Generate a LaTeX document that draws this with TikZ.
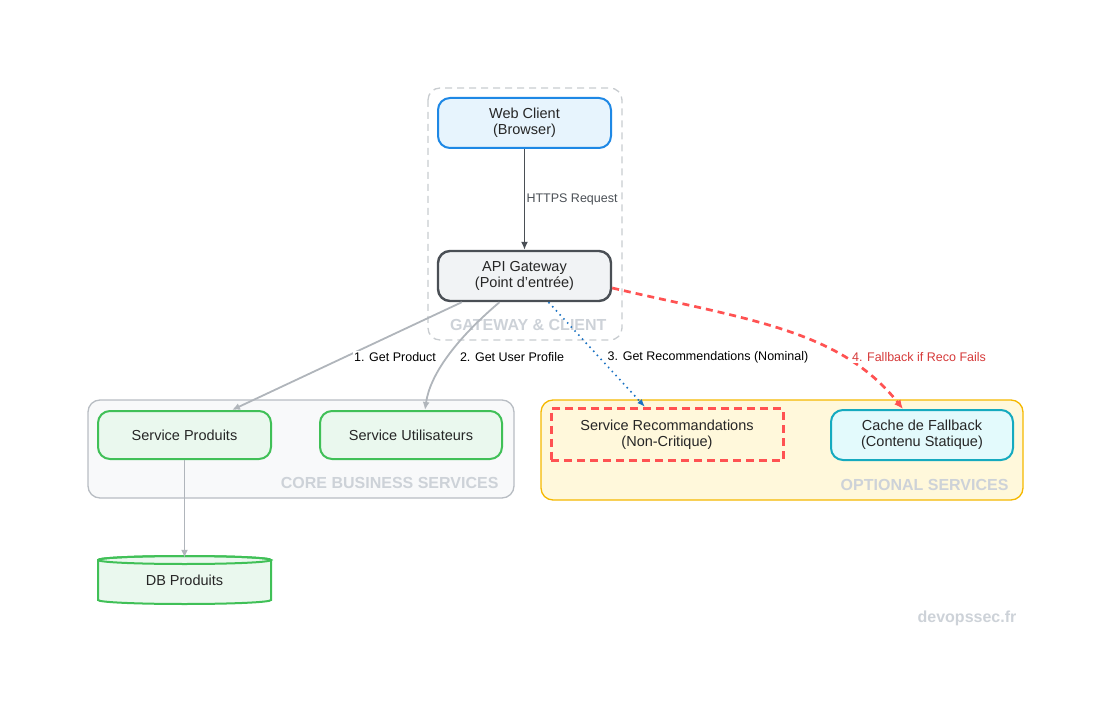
\documentclass[tikz,border=0pt]{standalone}
\usepackage{fontspec}
\setmainfont{Liberation Sans}
\usetikzlibrary{arrows.meta}
\definecolor{grpgray}{HTML}{C8CCD0}
\definecolor{lbl}{HTML}{CDD2D8}
\definecolor{webf}{HTML}{E7F4FD}\definecolor{webd}{HTML}{1E88E5}
\definecolor{apif}{HTML}{F1F3F5}\definecolor{apid}{HTML}{4A4F55}
\definecolor{grf}{HTML}{EAF8EE}\definecolor{grd}{HTML}{40C057}
\definecolor{coref}{HTML}{F8F9FA}\definecolor{cored}{HTML}{B8BDC3}
\definecolor{optf}{HTML}{FFF8DB}\definecolor{optd}{HTML}{F5B800}
\definecolor{cyf}{HTML}{E3FAFC}\definecolor{cyd}{HTML}{15AABF}
\definecolor{redd}{HTML}{FF5252}\definecolor{redt}{HTML}{D63A3A}
\definecolor{bluet}{HTML}{1971C2}\definecolor{arr}{HTML}{B0B5BB}
\tikzset{
 box/.style={rounded corners=12pt,line width=2pt,align=center,font=\fontsize{14.5}{16}\selectfont,text=black!85},
 grp/.style={rounded corners=12pt,line width=1.3pt},
 glabel/.style={font=\bfseries\fontsize{16}{18}\selectfont,text=lbl,anchor=east},
 elab/.style={font=\fontsize{12.5}{14}\selectfont,fill=white,inner sep=1pt},
 gar/.style={draw=arr,line width=1.8pt,-{Latex[length=8pt,width=7pt]}}
}
\begin{document}
\begin{tikzpicture}[x=1pt,y=-1pt]
\useasboundingbox (0,0) rectangle (1111,711);
% groups
\draw[grp,draw=grpgray,dash pattern=on 7pt off 5pt] (428,88) rectangle (622,340);
\node[glabel] (gl) at (610,325) {GATEWAY \& CLIENT};
\draw[grp,fill=coref,draw=cored] (88,400) rectangle (514,498);
\node[glabel] (cl) at (502,483) {CORE BUSINESS SERVICES};
\draw[grp,fill=optf,draw=optd] (541,400) rectangle (1023,500);
\node[glabel] (ol) at (1012,485) {OPTIONAL SERVICES};
% nodes
\node[box,fill=webf,draw=webd,minimum width=173pt,minimum height=50pt] (web) at (524.5,123) {Web Client\\(Browser)};
\node[box,fill=apif,draw=apid,line width=2.4pt,minimum width=173pt,minimum height=50pt] (api) at (524.5,276) {API Gateway\\(Point d'entrée)};
\node[box,fill=grf,draw=grd,minimum width=173pt,minimum height=48pt] (sp) at (184.5,435) {Service Produits};
\node[box,fill=grf,draw=grd,minimum width=182pt,minimum height=48pt] (su) at (411,435) {Service Utilisateurs};
\node[box,rounded corners=0pt,draw=redd,line width=3pt,dash pattern=on 8pt off 5pt,minimum width=232pt,minimum height=52pt] (reco) at (667,434.5) {Service Recommandations\\(Non-Critique)};
\node[box,fill=cyf,draw=cyd,minimum width=182pt,minimum height=50pt] (cache) at (922,435) {Cache de Fallback\\(Contenu Statique)};
% cylinder
\path[fill=grf,draw=grd,line width=2pt] (98,560) -- (98,600) arc[start angle=180,end angle=360,x radius=86.5pt,y radius=4pt] -- (271,560) arc[start angle=0,end angle=180,x radius=86.5pt,y radius=4pt] -- cycle;
\draw[grd,line width=2pt] (98,560) arc[start angle=180,end angle=-180,x radius=86.5pt,y radius=4pt];
\node[font=\fontsize{14.5}{16}\selectfont,text=black!85,minimum width=173pt,minimum height=44pt] (db) at (184.5,580) {DB Produits};
% coordinates
\coordinate (a1) at ([xshift=25pt]api.south west);
\coordinate (t1) at ([xshift=-40pt]sp.north east);
\coordinate (a2) at ([xshift=-25pt]api.south);
\coordinate (t2) at ([xshift=14pt]su.north);
\coordinate (a3) at ([xshift=24pt]api.south);
\coordinate (t3) at ([xshift=-22pt]reco.north);
\coordinate (a4) at ([yshift=-12pt]api.east);
\coordinate (t4) at ([xshift=-19pt]cache.north);
% edges
\draw[draw=apid,line width=1.6pt,-{Latex[length=8pt,width=7pt]}] (web) -- (api);
\node[font=\fontsize{12.5}{14}\selectfont,text=apid,anchor=west] (l0) at (523,199) {HTTPS Request};
\draw[gar] (a1) -- (t1);
\draw[gar] (a2) .. controls (455,340) and (430,375) .. (t2);
\draw[bluet,line width=1.6pt,dash pattern=on 1.5pt off 4pt,-{Latex[length=8pt,width=6pt]}] (a3) -- (t3);
\draw[redd,line width=2.7pt,dash pattern=on 7pt off 5pt,-{Latex[length=9pt,width=8pt]}] (a4) .. controls (750,320) and (840,330) .. (t4);
\draw[gar] (sp) -- (db.north);
\node[elab] (e1) at (395,357) {1. Get Product};
\node[elab] (e2) at (512,357) {2. Get User Profile};
\node[elab] (e3) at (708,357) {3. Get Recommendations (Nominal)};
\node[elab,text=redt] (e4) at (919,357) {4. Fallback if Reco Fails};
\node[font=\bfseries\fontsize{16}{18}\selectfont,text=lbl] (brand) at (967,618) {devopssec.fr};
\end{tikzpicture}
\end{document}
